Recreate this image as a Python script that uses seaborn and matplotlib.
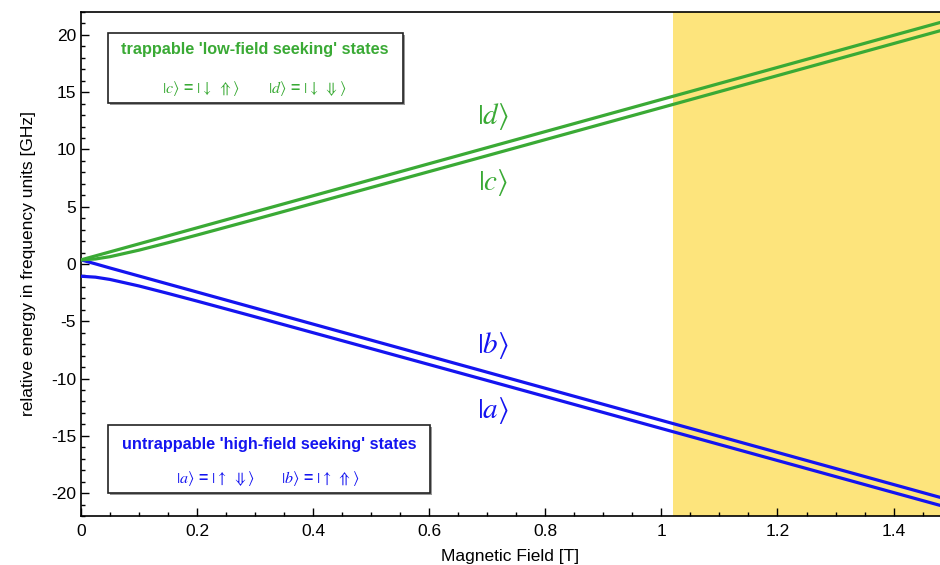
import numpy as np
import pandas as pd
import seaborn as sns
import matplotlib.pyplot as plt
from matplotlib.patches import Rectangle
from matplotlib.ticker import MultipleLocator

# magnetic field [T] and level energies [GHz]
field = [0.0, 0.025, 0.05, 0.1, 0.15, 0.2, 0.3, 0.4, 0.7, 1.0, 1.48]
state_a = [-1.07, -1.15, -1.35, -1.92, -2.57, -3.24, -4.61, -6.00, -10.17, -14.36, -21.07]
state_b = [0.36, 0.01, -0.35, -1.05, -1.75, -2.45, -3.85, -5.25, -9.45, -13.65, -20.37]
state_c = [0.36, 0.44, 0.64, 1.21, 1.86, 2.53, 3.90, 5.29, 9.46, 13.65, 20.36]
state_d = [0.36, 0.71, 1.06, 1.76, 2.46, 3.16, 4.56, 5.96, 10.16, 14.36, 21.08]
shade_start = 1.02

green = '#3aaa35'
blue = '#1414f0'

frames = []
for name, vals in [('a', state_a), ('b', state_b), ('c', state_c), ('d', state_d)]:
    frames.append(pd.DataFrame({'B': field, 'E': vals, 'state': name}))
df = pd.concat(frames, ignore_index=True)

sns.set_theme(style='ticks')
plt.rcParams['font.family'] = ['Liberation Sans', 'DejaVu Sans']
plt.rcParams['mathtext.fontset'] = 'stix'
plt.rcParams['axes.unicode_minus'] = False
plt.rcParams['text.color'] = 'black'
plt.rcParams['axes.labelcolor'] = 'black'
plt.rcParams['xtick.color'] = 'black'
plt.rcParams['ytick.color'] = 'black'

fig = plt.figure(figsize=(9.4, 5.65), dpi=100)
ax = fig.add_axes([0.0862, 0.0867, 0.9138, 0.8921])

ax.axvspan(shade_start, 1.6, color='#fde47c', lw=0, zorder=0)

sns.lineplot(data=df, x='B', y='E', hue='state', units='state', estimator=None,
             sort=False, palette={'a': blue, 'b': blue, 'c': green, 'd': green},
             lw=2.3, legend=False, ax=ax, zorder=3)

ax.set_xlim(0, 1.48)
ax.set_ylim(-22, 22)
ax.xaxis.set_major_locator(MultipleLocator(0.2))
ax.xaxis.set_minor_locator(MultipleLocator(0.05))
ax.yaxis.set_major_locator(MultipleLocator(5))
ax.yaxis.set_minor_locator(MultipleLocator(1))
ax.set_xticks([0, 0.2, 0.4, 0.6, 0.8, 1.0, 1.2, 1.4])
ax.set_xticklabels(['0', '0.2', '0.4', '0.6', '0.8', '1', '1.2', '1.4'])
ax.tick_params(which='major', direction='in', length=6, width=1, labelsize=12.5,
               color='black', labelcolor='black')
ax.tick_params(which='minor', direction='in', length=3, width=1, color='black')
ax.tick_params(axis='x', pad=6)
for s in ['left', 'bottom', 'top']:
    ax.spines[s].set_linewidth(1.2)
    ax.spines[s].set_color('black')
ax.spines['right'].set_visible(False)

ax.set_xlabel('Magnetic Field [T]', fontsize=12.5, labelpad=7, color='black')
ax.set_ylabel('relative energy in frequency units [GHz]', fontsize=12.5, labelpad=11,
              color='black')

# state labels
ax.text(0.71, 12.9, r'$|d\rangle$', color=green, fontsize=21, ha='center', va='center')
ax.text(0.71, 7.1, r'$|c\rangle$', color=green, fontsize=21, ha='center', va='center')
ax.text(0.71, -7.1, r'$|b\rangle$', color=blue, fontsize=21, ha='center', va='center')
ax.text(0.71, -12.75, r'$|a\rangle$', color=blue, fontsize=21, ha='center', va='center')

# info boxes
def info_box(x0, y0, w, h, color, title, tx, ty, items, iy):
    ax.add_patch(Rectangle((x0 + 0.002, y0 - 0.004), w, h, transform=ax.transAxes,
                           facecolor='#999999', edgecolor='none', zorder=4))
    ax.add_patch(Rectangle((x0, y0), w, h, transform=ax.transAxes,
                           facecolor='white', edgecolor='#222222', lw=1.2, zorder=5))
    ax.text(tx, ty, title, transform=ax.transAxes, color=color, fontsize=11.7,
            fontweight='bold', ha='center', va='center', zorder=6)
    for ix, s in items:
        ax.text(ix, iy, s, transform=ax.transAxes, color=color, fontsize=11.5,
                fontweight='bold', ha='center', va='center', zorder=6)

info_box(0.0314, 0.819, 0.344, 0.139, green, "trappable 'low-field seeking' states",
         0.2026, 0.925,
         [(0.139, r'$|c\rangle$ = $|\downarrow\ \Uparrow\rangle$'),
          (0.263, r'$|d\rangle$ = $|\downarrow\ \Downarrow\rangle$')], 0.849)
info_box(0.0314, 0.0456, 0.375, 0.135, blue, "untrappable 'high-field seeking' states",
         0.219, 0.141,
         [(0.156, r'$|a\rangle$ = $|\uparrow\ \Downarrow\rangle$'),
          (0.279, r'$|b\rangle$ = $|\uparrow\ \Uparrow\rangle$')], 0.0754)

fig.savefig('out.png', dpi=100)
